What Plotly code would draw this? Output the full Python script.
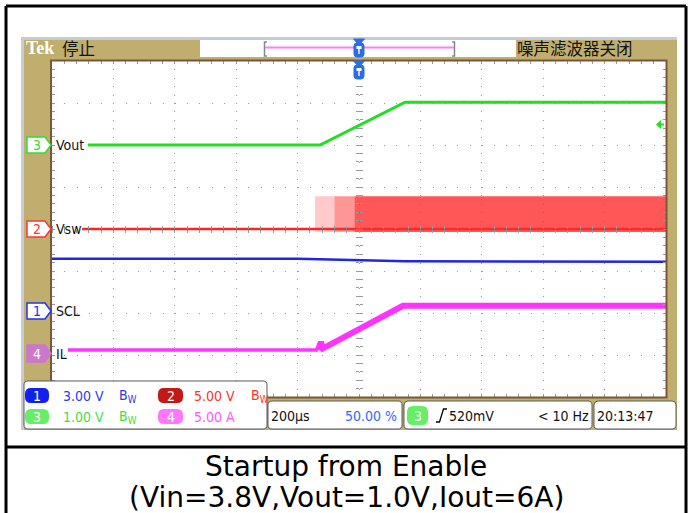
import plotly.graph_objects as go

W, H = 693, 513

# ---------------- data (time in us, 200 us/div; amplitude in screen divisions) ----------------
vout_t = [-883, -127, 150, 1000]
vout_y = [2.0, 2.0, 3.02, 3.02]

vsw_t = [-902, 1000]
vsw_y = [0.0, 0.0]
# switching burst envelope, split in segments of rising density
vsw_burst_t = [-143, -80, -15, 1000]
vsw_burst_hi = [0.78, 0.78, 0.78, 0.78]
vsw_burst_lo = [-0.07, -0.07, -0.07, -0.07]
vsw_burst_alpha = [0.25, 0.5, 0.8]

scl_t = [-1000, -200, 150, 1000]
scl_y = [-0.71, -0.71, -0.77, -0.78]

il_t = [-948, -134, -124, -117, 143, 1000]
il_y = [-2.88, -2.88, -2.69, -2.84, -1.83, -1.83]

ch_names = ["Vout", "Vsw", "SCL", "IL"]
ch_nums = ["3", "2", "1", "4"]
scales = ["3.00 V", "5.00 V", "1.00 V", "5.00 A"]
timebase = "200\u03bcs"
trig_pos = "50.00 %"
trig_level = "520mV"
trig_freq = "< 10 Hz"
clock = "20:13:47"

# ---------------- helpers ----------------
def X(p):
    return p / W

def Y(p):
    return 1 - p / H

def P(x, y):
    return f"{X(x):.5f},{Y(y):.5f}"

def rrect(x0, y0, x1, y1, r):
    return (f"M{P(x0 + r, y0)} L{P(x1 - r, y0)} Q{P(x1, y0)} {P(x1, y0 + r)} "
            f"L{P(x1, y1 - r)} Q{P(x1, y1)} {P(x1 - r, y1)} L{P(x0 + r, y1)} "
            f"Q{P(x0, y1)} {P(x0, y1 - r)} L{P(x0, y0 + r)} Q{P(x0, y0)} {P(x0 + r, y0)} Z")

def badge(x0, y0, x1, y1):
    ym = (y0 + y1) / 2
    return f"M{P(x0, y0)} L{P(x1 - 6, y0)} L{P(x1, ym)} L{P(x1 - 6, y1)} L{P(x0, y1)} Z"

TAN = "#c0ae6e"
STRIP = "#c6cbd6"
BROWN = "#7a5636"
GRID = "#9a9a9a"
C_GREEN = "#22dd22"
C_RED = "#ff2424"
C_BLUE = "#2424e6"
C_MAG = "#ff33ff"
SCOPE_FONT = "DejaVu Sans Condensed, Liberation Sans Narrow, Arial Narrow, sans-serif"

fig = go.Figure()

# ---------------- waveforms ----------------
fig.add_trace(go.Scatter(x=scl_t, y=scl_y, mode="lines",
                         line=dict(color=C_BLUE, width=2.5)))
fig.add_trace(go.Scatter(x=vsw_t, y=vsw_y, mode="lines",
                         line=dict(color=C_RED, width=2.5)))
for i, a in enumerate(vsw_burst_alpha):
    seg = slice(i, i + 2)
    fig.add_trace(go.Scatter(x=vsw_burst_t[seg], y=vsw_burst_lo[seg], mode="lines",
                             line=dict(width=0)))
    fig.add_trace(go.Scatter(x=vsw_burst_t[seg], y=vsw_burst_hi[seg], mode="lines",
                             line=dict(width=0), fill="tonexty",
                             fillcolor=f"rgba(255,45,45,{a})"))
fig.add_trace(go.Scatter(x=vout_t, y=vout_y, mode="lines",
                         line=dict(color=C_GREEN, width=3)))
fig.add_trace(go.Scatter(x=il_t[:2], y=il_y[:2], mode="lines",
                         line=dict(color=C_MAG, width=3.5)))
fig.add_trace(go.Scatter(x=il_t[1:], y=il_y[1:], mode="lines",
                         line=dict(color=C_MAG, width=6)))

# dummy traces binding the centre-cross tick axes
for xa, ya in [("x2", "y"), ("x3", "y"), ("x", "y2"), ("x", "y3")]:
    fig.add_trace(go.Scatter(x=[None], y=[None], xaxis=xa, yaxis=ya, mode="lines"))

fig.update_traces(showlegend=False, hoverinfo="skip")

# ---------------- axes ----------------
xdom = [X(52), X(666)]
ydom = [Y(397), Y(61)]
xr = [-1000, 1000]
yr = [-4, 4]

tick_common = dict(showline=False, zeroline=False, showticklabels=False, fixedrange=True)

xaxis = dict(domain=xdom, range=xr, showgrid=True, gridcolor=GRID, gridwidth=1,
             griddash="1px,7.4px", tickmode="linear", tick0=0, dtick=200,
             ticks="inside", ticklen=3, tickcolor=GRID, mirror="ticks",
             minor=dict(dtick=40, ticks="inside", ticklen=3, tickcolor=GRID, showgrid=False),
             anchor="y", **tick_common)
yaxis = dict(domain=ydom, range=yr, showgrid=True, gridcolor=GRID, gridwidth=1,
             griddash="1px,11.28px", tickmode="linear", tick0=0, dtick=1,
             ticks="inside", ticklen=3, tickcolor=GRID, mirror="ticks",
             minor=dict(dtick=0.2, ticks="inside", ticklen=3, tickcolor=GRID, showgrid=False),
             anchor="x", **tick_common)

centre_x = dict(range=xr, overlaying="x", anchor="free", position=Y(229), showgrid=False,
                tickmode="linear", tick0=0, dtick=40, ticks="outside", ticklen=3,
                tickcolor=GRID, **tick_common)
centre_y = dict(range=yr, overlaying="y", anchor="free", position=X(359), showgrid=False,
                tickmode="linear", tick0=0, dtick=0.2, ticks="outside", ticklen=3,
                tickcolor=GRID, **tick_common)

# ---------------- shapes ----------------
shapes = []
# scope screen background
shapes.append(dict(type="rect", xref="paper", yref="paper", x0=X(21), x1=X(677), y0=Y(430), y1=Y(37),
                   fillcolor=TAN, line_width=0, layer="below"))
shapes.append(dict(type="rect", xref="paper", yref="paper", x0=X(21), x1=X(677), y0=Y(40), y1=Y(37),
                   fillcolor=STRIP, line_width=0, layer="below"))
shapes.append(dict(type="rect", xref="paper", yref="paper", x0=X(21), x1=X(24), y0=Y(430), y1=Y(37),
                   fillcolor=STRIP, line_width=0, layer="below"))
shapes.append(dict(type="rect", xref="paper", yref="paper", x0=X(52), x1=X(666), y0=Y(397), y1=Y(61),
                   fillcolor="white", line_width=0, layer="below"))
# outer table frame
for x0, y0, x1, y1 in [(6, 6, 686, 6), (6, 6, 6, 513), (686, 6, 686, 513), (6, 447, 686, 447)]:
    shapes.append(dict(type="line", xref="paper", yref="paper", x0=X(x0), y0=Y(y0),
                       x1=X(x1), y1=Y(y1), line=dict(color="black", width=3), layer="above"))
# plot area frame
shapes.append(dict(type="rect", xref="paper", yref="paper", x0=X(51), x1=X(666.5), y0=Y(397.5), y1=Y(60.5),
                   line=dict(color=BROWN, width=2), fillcolor="rgba(0,0,0,0)", layer="above"))
# top record bar
shapes.append(dict(type="rect", xref="paper", yref="paper", x0=X(200), x1=X(516), y0=Y(57), y1=Y(40),
                   fillcolor="white", line_width=0, layer="above"))
shapes.append(dict(type="path", xref="paper", yref="paper",
                   path=f"M{P(267, 42)} L{P(264.5, 42)} L{P(264.5, 56)} L{P(267, 56)}",
                   line=dict(color="#7d8c8a", width=1.5), layer="above"))
shapes.append(dict(type="path", xref="paper", yref="paper",
                   path=f"M{P(452, 42)} L{P(454.5, 42)} L{P(454.5, 56)} L{P(452, 56)}",
                   line=dict(color="#7d8c8a", width=1.5), layer="above"))
shapes.append(dict(type="line", xref="paper", yref="paper", x0=X(265), x1=X(454), y0=Y(47.5), y1=Y(47.5),
                   line=dict(color="#ff7cff", width=2), layer="above"))
# trigger position markers
TB = "#2a6ee6"
for top in (39, 61):
    shapes.append(dict(type="path", xref="paper", yref="paper",
                       path=f"M{P(353.5, top)} L{P(364.5, top)} L{P(359, top + 6)} Z",
                       fillcolor=TB, line=dict(color=TB, width=1), layer="above"))
    shapes.append(dict(type="path", xref="paper", yref="paper",
                       path=rrect(354, top + 4, 364, top + 18, 3),
                       fillcolor=TB, line=dict(color=TB, width=1), layer="above"))
    shapes.append(dict(type="path", xref="paper", yref="paper",
                       path=(f"M{P(356.5, top + 7)} L{P(361.5, top + 7)} L{P(361.5, top + 10)} "
                             f"L{P(359.7, top + 10)} L{P(359.7, top + 15)} L{P(358.3, top + 15)} "
                             f"L{P(358.3, top + 10)} L{P(356.5, top + 10)} Z"),
                       fillcolor="white", line_width=0, layer="above"))
# right trigger-level arrow
shapes.append(dict(type="path", xref="paper", yref="paper",
                   path=f"M{P(656, 124.5)} L{P(661, 120)} L{P(661, 123.5)} L{P(664, 123.5)} L{P(664, 125.5)} L{P(661, 125.5)} L{P(661, 129)} Z",
                   fillcolor=C_GREEN, line_width=0, layer="above"))
# channel badges on the left
badge_specs = [  # y0, y1, border, fill
    (137, 153, "#33dd33", "white"),
    (221, 237, "#ff3333", "white"),
    (303, 319, "#2233ee", "white"),
    (345, 362, "#cc77cc", "#cc77cc"),
]
for y0, y1, bc, fc in badge_specs:
    shapes.append(dict(type="path", xref="paper", yref="paper", path=badge(27, y0, 51, y1),
                       fillcolor=fc, line=dict(color=bc, width=1.5), layer="above"))
# readout boxes
for x0, y0, x1, y1 in [(24, 381, 267, 429), (268, 401, 402, 429), (404, 401, 592, 429), (594, 401, 676, 429)]:
    shapes.append(dict(type="path", xref="paper", yref="paper", path=rrect(x0, y0, x1, y1, 4),
                       fillcolor="white", line=dict(color="#5a5a5a", width=1), layer="above"))
pill_specs = [  # x0, y0, x1, y1, colour
    (25, 388, 49, 403, "#1020ee"),
    (158, 388, 183, 403, "#c41818"),
    (25, 409, 49, 424, "#66ee66"),
    (158, 409, 183, 424, "#ff77ff"),
    (407, 406, 428, 425, "#66ee66"),
]
for x0, y0, x1, y1, c in pill_specs:
    shapes.append(dict(type="path", xref="paper", yref="paper", path=rrect(x0, y0, x1, y1, 6),
                       fillcolor=c, line_width=0, layer="above"))
# rising-edge trigger symbol
shapes.append(dict(type="path", xref="paper", yref="paper",
                   path=f"M{P(436, 422)} L{P(439.5, 422)} L{P(443.5, 409)} L{P(447, 409)}",
                   line=dict(color="black", width=1.3), layer="above"))

# ---------------- annotations ----------------
ann = []

def txt(x, y, s, size, color, family=SCOPE_FONT, xanchor="left"):
    ann.append(dict(x=X(x), y=Y(y), xref="paper", yref="paper", text=s, showarrow=False,
                    xanchor=xanchor, yanchor="middle", font=dict(family=family, size=size, color=color)))

txt(24, 48, "<b>Tek</b>", 18, "white", family="Liberation Serif, serif")
txt(60, 48, "停止", 16.5, "#111111", family="Noto Sans CJK SC")
txt(515, 48, "噪声滤波器关闭", 16.5, "#111111", family="Noto Sans CJK SC")

label_y = [145, 229, 311, 353.5]
num_colors = ["#33dd33", "#ff3333", "#2233ee", "white"]
for name, num, yy, nc in zip(ch_names, ch_nums, label_y, num_colors):
    txt(36.5, yy, num, 14, nc, xanchor="center")
    txt(54, yy, name, 14, "#111111")

# readout rows
row1, row2 = 395.5, 416.5
readout = [  # x, y, text, colour
    (61, row1, scales[0], "#2a3ae8"), (117, row1, "B<sub>W</sub>", "#2a3ae8"),
    (192, row1, scales[1], "#ff3030"), (249, row1, "B<sub>W</sub>", "#ff3030"),
    (61, row2, scales[2], "#44dd44"), (117, row2, "B<sub>W</sub>", "#44dd44"),
    (192, row2, scales[3], "#ff55ff"),
]
for x, y, s, c in readout:
    txt(x, y, s, 14, c)
for x, y, s in [(37, row1, "1"), (170.5, row1, "2"), (37, row2, "3"), (170.5, row2, "4"), (417.5, 415.5, "3")]:
    txt(x, y, s, 14, "white", xanchor="center")

txt(269, 415.5, timebase, 14, "#111111")
txt(399, 415.5, trig_pos, 14, "#3366ff", xanchor="right")
txt(447, 415.5, trig_level, 14, "#111111")
txt(591, 415.5, trig_freq, 14, "#111111", xanchor="right")
txt(595, 415.5, clock, 14, "#111111")

# caption
txt(346, 466, "Startup from Enable", 28, "black", family="DejaVu Sans", xanchor="center")
txt(346, 497, "(Vin=3.8V,Vout=1.0V,Iout=6A)", 28, "black", family="DejaVu Sans", xanchor="center")

fig.update_layout(
    width=W, height=H, margin=dict(l=0, r=0, t=0, b=0),
    paper_bgcolor="white", plot_bgcolor="white", showlegend=False,
    xaxis=xaxis, yaxis=yaxis,
    xaxis2=dict(side="bottom", **centre_x), xaxis3=dict(side="top", **centre_x),
    yaxis2=dict(side="left", **centre_y), yaxis3=dict(side="right", **centre_y),
    shapes=shapes, annotations=ann,
)

fig.write_html("out.html", config={"displayModeBar": False},
               post_script="document.body.style.margin='0';document.body.style.overflow='hidden';")
